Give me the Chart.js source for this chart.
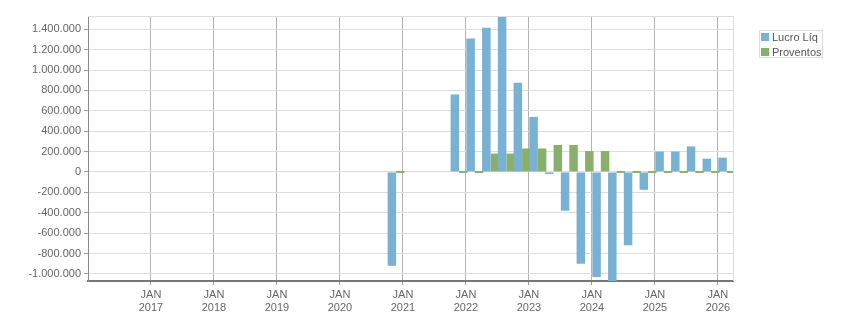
<!DOCTYPE html>
<html lang="pt-BR">
<head>
    <meta charset="UTF-8">
    <title>Lucro Líq x Proventos</title>
    <script src="https://cdn.jsdelivr.net/npm/chart.js@4.4.1/dist/chart.umd.min.js"></script>
    <style>
        body {
            margin: 0;
            background: #fff;
            font-family: "Liberation Sans", Arial, sans-serif;
        }

        #wrap {
            position: relative;
            width: 851px;
            height: 313px;
        }

        #legend {
            position: absolute;
            left: 759px;
            top: 30px;
            width: 62px;
            height: 26px;
            border: 1px solid #ddd;
            font-size: 11px;
            color: #555;
        }

        .item {
            position: absolute;
            left: 0;
            height: 13px;
            line-height: 13px;
            white-space: nowrap;
        }

        .box {
            position: absolute;
            left: 1px;
            top: 2px;
            width: 8px;
            height: 8px;
        }

        .label {
            position: absolute;
            left: 12px;
            top: 0;
        }
    </style>
</head>
<body>
    <div id="wrap">
        <canvas id="chart" width="851" height="313"></canvas>
        <div id="legend"></div>
    </div>

    <script>
        // quarterly results, YYYY-MM
        const quarters = ['2020-12', '2021-12', '2022-03', '2022-06', '2022-09', '2022-12', '2023-03', '2023-06',
            '2023-09', '2023-12', '2024-03', '2024-06', '2024-09', '2024-12', '2025-03', '2025-06', '2025-09',
            '2025-12', '2026-03'];
        const lucroLiq = [-920000, 760000, 1310000, 1415000, 1520000, 875000, 540000, -20000,
            -380000, -900000, -1030000, -1100000, -720000, -175000, 200000, 200000, 250000,
            130000, 140000];
        const proventos = [0, 0, 0, 180000, 180000, 230000, 230000, 265000,
            265000, 205000, 205000, 0, 0, 0, 0, 0, 0,
            0, 0];
        const yearTicks = [2017, 2018, 2019, 2020, 2021, 2022, 2023, 2024, 2025, 2026];
        const valueTicks = [-1000000, -800000, -600000, -400000, -200000, 0, 200000, 400000, 600000,
            800000, 1000000, 1200000, 1400000];
        const seriesNames = ['Lucro Líq', 'Proventos'];
        const seriesColors = ['#78b1d3', '#89b06a'];

        // month start as a fractional year (bars sit a little before the 1st)
        function toX(q) {
            const parts = q.split('-').map(Number);
            return parts[0] + (parts[1] - 1.3) / 12;
        }

        function fmt(v) {
            const s = Math.abs(v).toString().replace(/\B(?=(\d{3})+(?!\d))/g, '.');
            return v < 0 ? '-' + s : s;
        }

        const plotFrame = {
            id: 'plotFrame',
            afterDatasetsDraw(chart) {
                const a = chart.chartArea;
                const ctx = chart.ctx;
                ctx.save();
                ctx.strokeStyle = '#dddddd';
                ctx.lineWidth = 1;
                ctx.beginPath();
                ctx.moveTo(a.left, a.top + 0.5);
                ctx.lineTo(a.right, a.top + 0.5);
                ctx.moveTo(a.right + 0.5, a.top);
                ctx.lineTo(a.right + 0.5, a.bottom);
                ctx.stroke();
                ctx.restore();
            }
        };

        const font = { family: '"Liberation Sans", Arial, sans-serif', size: 11 };

        const ctx = document.getElementById('chart').getContext('2d');
        new Chart(ctx, {
            type: 'bar',
            data: {
                datasets: [{
                    label: seriesNames[0],
                    data: quarters.map((q, i) => ({ x: toX(q), y: lucroLiq[i] })),
                    backgroundColor: seriesColors[0],
                    borderWidth: 0,
                    categoryPercentage: 1.08,
                    barPercentage: 1
                }, {
                    label: seriesNames[1],
                    data: quarters.map((q, i) => ({ x: toX(q), y: proventos[i] })),
                    backgroundColor: seriesColors[1],
                    borderWidth: 0,
                    minBarLength: 2,
                    categoryPercentage: 1.08,
                    barPercentage: 1
                }]
            },
            options: {
                responsive: false,
                animation: false,
                layout: {
                    padding: { top: 16, right: 118, left: 0, bottom: 0 }
                },
                plugins: {
                    legend: { display: false },
                    tooltip: { enabled: false }
                },
                scales: {
                    x: {
                        type: 'linear',
                        min: 2016,
                        max: 2026.24,
                        offset: false,
                        grid: { color: '#b3b3b3', tickColor: '#999', tickLength: 4, offset: false },
                        border: { color: '#777', width: 2 },
                        ticks: {
                            font: font,
                            color: '#666',
                            padding: 3,
                            maxRotation: 0,
                            autoSkip: false,
                            callback: v => ['JAN', String(v)]
                        },
                        afterBuildTicks: scale => {
                            scale.ticks = yearTicks.map(v => ({ value: v }));
                        },
                        afterFit: scale => {
                            scale.height = 32;
                        }
                    },
                    y: {
                        min: -1070000,
                        max: 1530000,
                        grid: { color: '#dddddd', tickColor: '#999', tickLength: 4 },
                        border: { color: '#888', width: 1 },
                        ticks: {
                            font: font,
                            color: '#666',
                            padding: 3,
                            callback: v => fmt(v)
                        },
                        afterBuildTicks: scale => {
                            scale.ticks = valueTicks.map(v => ({ value: v }));
                        },
                        afterFit: scale => {
                            scale.width = 88;
                        }
                    }
                }
            },
            plugins: [plotFrame]
        });

        // legend box on the right
        const legend = document.getElementById('legend');
        seriesNames.forEach((name, i) => {
            const item = document.createElement('div');
            item.className = 'item';
            item.style.top = (i * 15) + 'px';
            item.innerHTML = '<span class="box" style="background:' + seriesColors[i] + '"></span>' +
                '<span class="label">' + name + '</span>';
            legend.appendChild(item);
        });
    </script>
</body>
</html>
